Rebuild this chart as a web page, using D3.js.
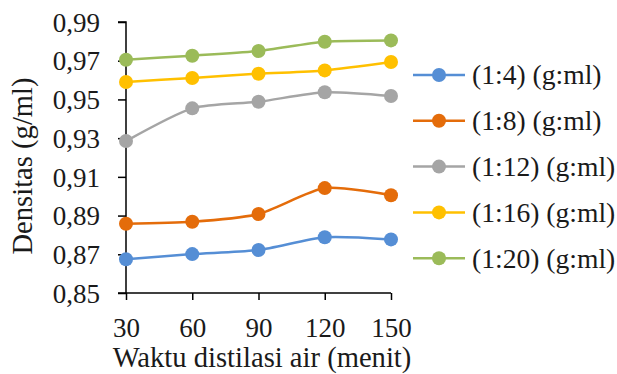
<!DOCTYPE html>
<html><head><meta charset="utf-8">
<script src="https://cdn.jsdelivr.net/npm/d3@7"></script>
<style>html,body{margin:0;padding:0;background:#fff;} text{font-family:"Liberation Serif",serif;fill:#1a1a1a;}</style>
</head><body><svg id="c" width="617" height="374"></svg>
<script>
const categories = [30, 60, 90, 120, 150];
const seriesNames = ["(1:4) (g:ml)", "(1:8) (g:ml)", "(1:12) (g:ml)", "(1:16) (g:ml)", "(1:20) (g:ml)"];
const s14 = [0.8674, 0.8701, 0.8722, 0.8788, 0.8777];
const s18 = [0.8858, 0.8868, 0.8908, 0.9042, 0.9005];
const s112 = [0.9285, 0.9454, 0.9488, 0.9537, 0.9518];
const s116 = [0.9590, 0.9611, 0.9633, 0.9650, 0.9693];
const s120 = [0.9705, 0.9726, 0.9750, 0.9798, 0.9805];
const colors = ["#558ED5", "#E46C0A", "#A5A5A5", "#FFC000", "#9BBB59"];
const yTicks = [0.85, 0.87, 0.89, 0.91, 0.93, 0.95, 0.97, 0.99];
const xTitle = "Waktu distilasi air (menit)";
const yTitle = "Densitas (g/ml)";

const series = [s14, s18, s112, s116, s120];
const svg = d3.select("#c");
const fs = 27, fsT = 28.6, fsL = 27.6;
const x = d3.scalePoint().domain(categories).range([126, 391]);
const y = d3.scaleLinear().domain([0.85, 0.99]).range([293, 22]);
const fmt = d => d3.format(".2f")(d).replace(".", ",");

// y axis
const ya = svg.append("g").attr("transform", "translate(126,0)")
  .call(d3.axisLeft(y).tickValues(yTicks).tickFormat(fmt).tickSize(8).tickPadding(18));
ya.select(".domain").attr("stroke", "#000").attr("stroke-width", 1.5).attr("d", "M-8,22H0V293H-8");
ya.selectAll(".tick line").attr("stroke", "#000").attr("stroke-width", 1.5);
ya.selectAll("text").style("font-size", fs + "px").attr("fill", "#1a1a1a").attr("dy", "0.34em");

// x axis
const xa = svg.append("g").attr("transform", "translate(0,293)")
  .call(d3.axisBottom(x).tickSize(7).tickPadding(18));
xa.select(".domain").attr("stroke", "#000").attr("stroke-width", 1.5).attr("d", "M126,0H391");
xa.selectAll(".tick line").attr("stroke", "#000").attr("stroke-width", 1.5);
xa.selectAll("text").style("font-size", fs + "px").attr("fill", "#1a1a1a").attr("dy", "0.7em");

// titles
svg.append("text").attr("x", 262).attr("y", 367).attr("text-anchor", "middle")
  .style("font-size", fsT + "px").text(xTitle);
svg.append("text").attr("transform", "translate(32,166) rotate(-90)").attr("text-anchor", "middle")
  .style("font-size", fsT + "px").text(yTitle);

// lines
const line = d3.line().x((d, i) => x(categories[i])).y(d => y(d)).curve(d3.curveCardinal.tension(0.3));
series.forEach((s, k) => {
  svg.append("path").attr("d", line(s)).attr("fill", "none").attr("stroke", colors[k]).attr("stroke-width", 2.5);
  svg.selectAll(null).data(s).enter().append("circle")
    .attr("cx", (d, i) => x(categories[i])).attr("cy", d => y(d)).attr("r", 7).attr("fill", colors[k]);
});

// legend
const lg = svg.append("g");
seriesNames.forEach((n, k) => {
  const cy = 75 + k * 45.8;
  lg.append("line").attr("x1", 413).attr("x2", 465).attr("y1", cy).attr("y2", cy).attr("stroke", colors[k]).attr("stroke-width", 2.5);
  lg.append("circle").attr("cx", 439).attr("cy", cy).attr("r", 7).attr("fill", colors[k]);
  lg.append("text").attr("x", 472).attr("y", cy).attr("dy", "0.34em").style("font-size", fsL + "px").text(n);
});
</script></body></html>
